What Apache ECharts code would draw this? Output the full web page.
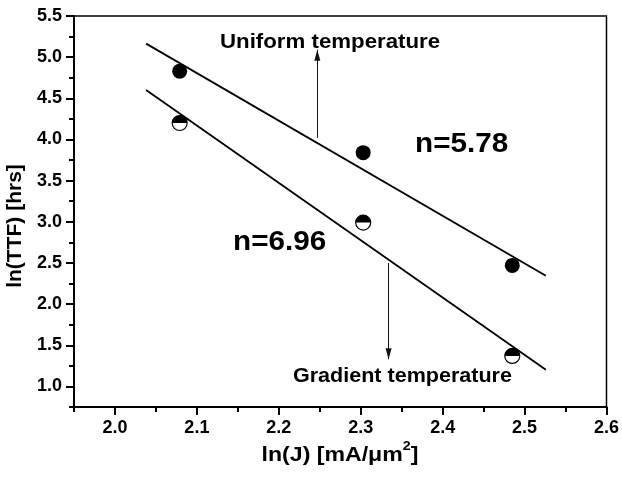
<!DOCTYPE html>
<html>
<head>
<meta charset="utf-8">
<script src="https://cdn.jsdelivr.net/npm/echarts@6/dist/echarts.min.js"></script>
<style>
  html, body { margin: 0; padding: 0; background: #fff; }
  #chart { width: 622px; height: 478px; }
</style>
</head>
<body>
<div id="chart"></div>
<script>
// Current density (ln J) and lifetimes (ln TTF) for the two test conditions
const lnJ = [2.079, 2.303, 2.485];
const uniformTTF = [4.83, 3.84, 2.47];
const gradientTTF = [4.20, 2.99, 1.37];

// Fitted exponents (slope of ln TTF vs ln J)
const uniformN = 5.78;
const gradientN = 6.96;
const fitRange = [2.038, 2.526];

// Axis ticks
const xMajor = [2.0, 2.1, 2.2, 2.3, 2.4, 2.5, 2.6];
const xMinor = [1.95, 2.05, 2.15, 2.25, 2.35, 2.45, 2.55];
const yMajor = [1.0, 1.5, 2.0, 2.5, 3.0, 3.5, 4.0, 4.5, 5.0, 5.5];
const yMinor = [0.75, 1.25, 1.75, 2.25, 2.75, 3.25, 3.75, 4.25, 4.75, 5.25];

// Annotation arrows: [x, yFrom, yTo]
const uniformArrow = [2.247, 4.02, 5.09];
const gradientArrow = [2.334, 2.50, 1.33];

const FONT = "'Liberation Sans', Arial, Helvetica, sans-serif";

// Least-squares line through the centroid with the fitted slope
function fitLine(xs, ys, n) {
  const mx = xs.reduce((a, b) => a + b, 0) / xs.length;
  const my = ys.reduce((a, b) => a + b, 0) / ys.length;
  return fitRange.map(x => [x, my - n * (x - mx)]);
}

const zip = (xs, ys) => xs.map((x, i) => [x, ys[i]]);

// Shaft of an annotation arrow
function arrowShaft(a) {
  return {
    silent: true,
    symbol: ['none', 'none'],
    label: { show: false },
    lineStyle: { color: '#111', width: 1, type: 'solid' },
    emphasis: { disabled: true },
    data: [[{ coord: [a[0], a[1]] }, { coord: [a[0], a[2]] }]]
  };
}

// Head of an annotation arrow, tip placed on the end point
function arrowHead(a) {
  const up = a[2] > a[1];
  return {
    type: 'scatter', silent: true, z: 4,
    data: [[a[0], a[2]]],
    symbol: 'triangle', symbolSize: [6, 11],
    symbolRotate: up ? 0 : 180,
    symbolOffset: [0, up ? '50%' : '-50%'],
    itemStyle: { color: '#111', opacity: 1 }
  };
}

const chart = echarts.init(document.getElementById('chart'), null, { renderer: 'canvas' });

const tickLabel = {
  color: '#000', fontSize: 18, fontWeight: 'bold', fontFamily: FONT
};

function note(text, x, y, size, sx) {
  return {
    type: 'text', x: x, y: y, scaleX: sx, silent: true,
    style: { text: text, fill: '#000', fontSize: size, fontWeight: 'bold', fontFamily: FONT, align: 'left', verticalAlign: 'middle' }
  };
}

const option = {
  animation: false,
  backgroundColor: '#fff',
  grid: {
    left: 74, right: 15, top: 16, bottom: 71,
    show: true, borderColor: '#000', borderWidth: 1.5, backgroundColor: 'transparent'
  },
  xAxis: [
    {
      type: 'value', min: 1.95, max: 2.6, position: 'bottom',
      axisLine: { show: true, lineStyle: { color: '#000', width: 2 } },
      axisTick: { show: true, customValues: xMajor, length: 8, lineStyle: { color: '#000', width: 2 } },
      axisLabel: Object.assign({ customValues: xMajor, margin: 12, formatter: v => v.toFixed(1) }, tickLabel),
      splitLine: { show: false }
    },
    {
      type: 'value', min: 1.95, max: 2.6, position: 'bottom',
      axisLine: { show: false },
      axisTick: { show: true, customValues: xMinor, length: 5, lineStyle: { color: '#000', width: 2 } },
      axisLabel: { show: false },
      splitLine: { show: false }
    }
  ],
  yAxis: [
    {
      type: 'value', min: 0.75, max: 5.5, position: 'left',
      axisLine: { show: true, lineStyle: { color: '#000', width: 2 } },
      axisTick: { show: true, customValues: yMajor, length: 8, lineStyle: { color: '#000', width: 2 } },
      axisLabel: Object.assign({ customValues: yMajor, margin: 12, formatter: v => v.toFixed(1) }, tickLabel),
      splitLine: { show: false }
    },
    {
      type: 'value', min: 0.75, max: 5.5, position: 'left',
      axisLine: { show: false },
      axisTick: { show: true, customValues: yMinor, length: 5, lineStyle: { color: '#000', width: 2 } },
      axisLabel: { show: false },
      splitLine: { show: false }
    }
  ],
  series: [
    {
      name: 'Uniform fit', type: 'line', data: fitLine(lnJ, uniformTTF, uniformN),
      symbol: 'none', lineStyle: { color: '#000', width: 1.8 }, silent: true,
      markLine: arrowShaft(uniformArrow)
    },
    {
      name: 'Gradient fit', type: 'line', data: fitLine(lnJ, gradientTTF, gradientN),
      symbol: 'none', lineStyle: { color: '#000', width: 1.8 }, silent: true,
      markLine: arrowShaft(gradientArrow)
    },
    arrowHead(uniformArrow),
    arrowHead(gradientArrow),
    {
      name: 'Uniform temperature', type: 'scatter', data: zip(lnJ, uniformTTF),
      symbol: 'circle', symbolSize: 15, itemStyle: { color: '#000', opacity: 1 }, z: 5
    },
    {
      name: 'Gradient temperature', type: 'scatter', data: zip(lnJ, gradientTTF),
      symbol: 'circle', symbolSize: 15,
      itemStyle: { color: '#fff', borderColor: '#000', borderWidth: 1.2, opacity: 1 }, z: 5
    },
    {
      name: 'Gradient temperature (upper half)', type: 'scatter', data: zip(lnJ, gradientTTF),
      symbol: 'path://M0,10 A10,10 0 0 1 20,10 Z', symbolSize: [15, 7.5], symbolOffset: [0, '-50%'],
      itemStyle: { color: '#000', opacity: 1 }, z: 6
    }
  ],
  graphic: [
    note('Uniform temperature', 220, 42.5, 21, 1.06),
    note('n=' + uniformN.toFixed(2), 415, 145, 27, 1.1),
    note('n=' + gradientN.toFixed(2), 233, 243, 27, 1.1),
    note('Gradient temperature', 293, 376, 21, 1.025),
    {
      type: 'text', x: 15, y: 226, rotation: Math.PI / 2, silent: true,
      style: { text: 'ln(TTF) [hrs]', fill: '#000', fontSize: 21, fontWeight: 'bold', fontFamily: FONT, align: 'center', verticalAlign: 'middle' }
    },
    {
      type: 'text', x: 340, y: 455, scaleX: 1.1, silent: true,
      style: {
        text: '{m|ln(J) [mA/μm}{sup|2}{m|]}', fill: '#000', fontFamily: FONT, fontWeight: 'bold', fontSize: 21,
        align: 'center', verticalAlign: 'middle',
        rich: {
          m: { fontSize: 21, fontWeight: 'bold', fontFamily: FONT, fill: '#000', lineHeight: 30 },
          sup: { fontSize: 13, fontWeight: 'bold', fontFamily: FONT, fill: '#000', lineHeight: 10, verticalAlign: 'top' }
        }
      }
    }
  ]
};

chart.setOption(option);
</script>
</body>
</html>
